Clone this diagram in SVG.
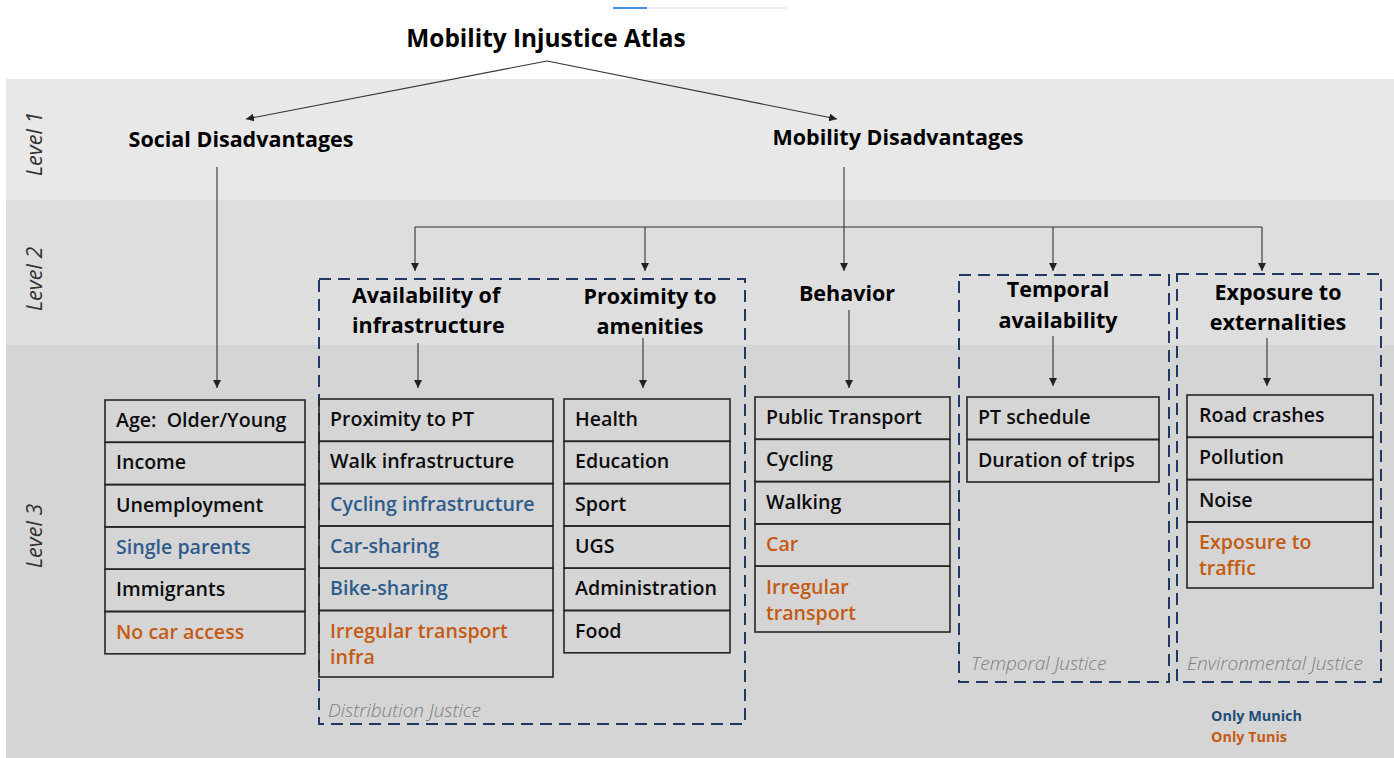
<svg xmlns="http://www.w3.org/2000/svg" width="1394" height="758" viewBox="0 0 1394 758">
  <defs>
    <marker id="arrow" markerUnits="userSpaceOnUse" markerWidth="9" markerHeight="8" refX="8" refY="4" orient="auto">
      <path d="M0,0 L8,4 L0,8 z" fill="#222"/>
    </marker>
    <style>
      .band1 { fill: #e8e8e8; }
      .band2 { fill: #dedede; }
      .band3 { fill: #d5d5d5; }
      .title { font-family: "Open Sans", "Liberation Sans", sans-serif; font-weight: 700; font-size: 24.4px; fill: #000; }
      .head { font-family: "Open Sans", "Liberation Sans", sans-serif; font-weight: 700; font-size: 21.5px; fill: #000; }
      .lvl { font-family: "Open Sans", "DejaVu Sans", sans-serif; font-style: italic; font-size: 21.5px; fill: #333333; }
      .cell rect { fill: none; stroke: #262626; stroke-width: 1.6; }
      .cell text { font-family: "Open Sans", "Liberation Sans", sans-serif; font-weight: 600; font-size: 19.6px; fill: #0d0d0d; }
      .cell text.mu { fill: #2e5c8c; }
      .cell text.tu { fill: #c55a11; }
      .zone { fill: none; stroke: #1f3864; stroke-width: 2; stroke-dasharray: 12 7; }
      .zlabel { font-family: "Open Sans", "Liberation Sans", sans-serif; font-style: italic; font-weight: 300; font-size: 19px; fill: #808080; }
      .conn line { fill: none; stroke: #333; stroke-width: 1.1; }
      .legend { font-family: "Open Sans", "Liberation Sans", sans-serif; font-weight: 700; font-size: 14.4px; }
    </style>
  </defs>

  <!-- page background and level bands -->
  <rect x="0" y="0" width="1394" height="758" fill="#ffffff"/>
  <rect class="band1" x="6" y="79" width="1388" height="121"/>
  <rect class="band2" x="6" y="200" width="1388" height="145"/>
  <rect class="band3" x="6" y="345" width="1388" height="413"/>

  <!-- small header rule -->
  <line x1="613" y1="8" x2="787" y2="8" stroke="#e6e6e6" stroke-width="1.5"/>
  <line x1="613" y1="8" x2="647" y2="8" stroke="#3b8fe0" stroke-width="2"/>

  <!-- level labels -->
  <text class="lvl" transform="translate(42,144) rotate(-90)" text-anchor="middle">Level 1</text>
  <text class="lvl" transform="translate(42,279) rotate(-90)" text-anchor="middle">Level 2</text>
  <text class="lvl" transform="translate(42,536) rotate(-90)" text-anchor="middle">Level 3</text>

  <!-- justice zones -->
  <g id="zone-distribution">
    <rect class="zone" x="319" y="279" width="426" height="445"/>
    <text class="zlabel" x="328" y="717">Distribution Justice</text>
  </g>
  <g id="zone-temporal">
    <rect class="zone" x="959" y="275" width="210" height="407"/>
    <text class="zlabel" x="971" y="670">Temporal Justice</text>
  </g>
  <g id="zone-environmental">
    <rect class="zone" x="1177" y="274" width="204" height="408"/>
    <text class="zlabel" x="1187" y="670">Environmental Justice</text>
  </g>

  <!-- connectors -->
  <g id="connectors" class="conn">
    <line x1="547" y1="61" x2="246" y2="119" marker-end="url(#arrow)"/>
    <line x1="547" y1="61" x2="837" y2="119" marker-end="url(#arrow)"/>
    <line x1="217" y1="167" x2="217" y2="388" marker-end="url(#arrow)"/>
    <line x1="844" y1="167" x2="844" y2="271" marker-end="url(#arrow)"/>
    <line x1="415" y1="227" x2="1262" y2="227"/>
    <line x1="415" y1="227" x2="415" y2="271" marker-end="url(#arrow)"/>
    <line x1="645" y1="227" x2="645" y2="271" marker-end="url(#arrow)"/>
    <line x1="1053" y1="227" x2="1053" y2="271" marker-end="url(#arrow)"/>
    <line x1="1262" y1="227" x2="1262" y2="271" marker-end="url(#arrow)"/>
    <line x1="418" y1="343" x2="418" y2="388" marker-end="url(#arrow)"/>
    <line x1="643" y1="338" x2="643" y2="388" marker-end="url(#arrow)"/>
    <line x1="849" y1="310" x2="849" y2="388" marker-end="url(#arrow)"/>
    <line x1="1053" y1="336" x2="1053" y2="386" marker-end="url(#arrow)"/>
    <line x1="1267" y1="338" x2="1267" y2="386" marker-end="url(#arrow)"/>
  </g>

  <!-- title -->
  <g id="node-atlas">
    <text class="title" x="546" y="47" text-anchor="middle">Mobility Injustice Atlas</text>
  </g>

  <!-- level 1 -->
  <g id="node-social">
    <text class="head" x="241" y="147" text-anchor="middle">Social Disadvantages</text>
  </g>
  <g id="node-mobility">
    <text class="head" x="898" y="145" text-anchor="middle">Mobility Disadvantages</text>
  </g>

  <!-- level 2 -->
  <g id="node-availability">
    <text class="head" x="352" y="303">Availability of</text>
    <text class="head" x="352" y="333">infrastructure</text>
  </g>
  <g id="node-proximity">
    <text class="head" x="650" y="304" text-anchor="middle">Proximity to</text>
    <text class="head" x="650" y="334" text-anchor="middle">amenities</text>
  </g>
  <g id="node-behavior">
    <text class="head" x="847" y="301" text-anchor="middle">Behavior</text>
  </g>
  <g id="node-temporal">
    <text class="head" x="1058" y="297" text-anchor="middle">Temporal</text>
    <text class="head" x="1058" y="328" text-anchor="middle">availability</text>
  </g>
  <g id="node-exposure">
    <text class="head" x="1278" y="300" text-anchor="middle">Exposure to</text>
    <text class="head" x="1278" y="330" text-anchor="middle">externalities</text>
  </g>

  <!-- level 3 tables -->
  <g id="table-social" class="cell">
    <rect x="105" y="400" width="200" height="42.3"/>
    <rect x="105" y="442.3" width="200" height="42.3"/>
    <rect x="105" y="484.6" width="200" height="42.3"/>
    <rect x="105" y="526.9" width="200" height="42.3"/>
    <rect x="105" y="569.2" width="200" height="42.3"/>
    <rect x="105" y="611.5" width="200" height="42.3"/>
    <text x="116" y="427" xml:space="preserve">Age:  Older/Young</text>
    <text x="116" y="469">Income</text>
    <text x="116" y="511.5">Unemployment</text>
    <text class="mu" x="116" y="554">Single parents</text>
    <text x="116" y="596">Immigrants</text>
    <text class="tu" x="116" y="638.5">No car access</text>
  </g>

  <g id="table-availability" class="cell">
    <rect x="319" y="399" width="234" height="42.3"/>
    <rect x="319" y="441.3" width="234" height="42.3"/>
    <rect x="319" y="483.6" width="234" height="42.3"/>
    <rect x="319" y="525.9" width="234" height="42.3"/>
    <rect x="319" y="568.2" width="234" height="42.3"/>
    <rect x="319" y="610.5" width="234" height="66.5"/>
    <text x="330" y="426">Proximity to PT</text>
    <text x="330" y="468">Walk infrastructure</text>
    <text class="mu" x="330" y="510.5">Cycling infrastructure</text>
    <text class="mu" x="330" y="553">Car-sharing</text>
    <text class="mu" x="330" y="595">Bike-sharing</text>
    <text class="tu" x="330" y="638">Irregular transport</text>
    <text class="tu" x="330" y="664">infra</text>
  </g>

  <g id="table-amenities" class="cell">
    <rect x="564" y="399" width="166" height="42.3"/>
    <rect x="564" y="441.3" width="166" height="42.3"/>
    <rect x="564" y="483.6" width="166" height="42.3"/>
    <rect x="564" y="525.9" width="166" height="42.3"/>
    <rect x="564" y="568.2" width="166" height="42.3"/>
    <rect x="564" y="610.5" width="166" height="42.3"/>
    <text x="575" y="426">Health</text>
    <text x="575" y="468">Education</text>
    <text x="575" y="510.5">Sport</text>
    <text x="575" y="553">UGS</text>
    <text x="575" y="595">Administration</text>
    <text x="575" y="637.5">Food</text>
  </g>

  <g id="table-behavior" class="cell">
    <rect x="755" y="397" width="195" height="42.3"/>
    <rect x="755" y="439.3" width="195" height="42.3"/>
    <rect x="755" y="481.6" width="195" height="42.3"/>
    <rect x="755" y="523.9" width="195" height="42.3"/>
    <rect x="755" y="566.2" width="195" height="65.8"/>
    <text x="766" y="424">Public Transport</text>
    <text x="766" y="466">Cycling</text>
    <text x="766" y="508.5">Walking</text>
    <text class="tu" x="766" y="551">Car</text>
    <text class="tu" x="766" y="593.5">Irregular</text>
    <text class="tu" x="766" y="620">transport</text>
  </g>

  <g id="table-temporal" class="cell">
    <rect x="967" y="397" width="192" height="42.5"/>
    <rect x="967" y="439.5" width="192" height="42.5"/>
    <text x="978" y="424">PT schedule</text>
    <text x="978" y="466.5">Duration of trips</text>
  </g>

  <g id="table-exposure" class="cell">
    <rect x="1187" y="395" width="186" height="42.3"/>
    <rect x="1187" y="437.3" width="186" height="42.3"/>
    <rect x="1187" y="479.6" width="186" height="42.3"/>
    <rect x="1187" y="521.9" width="186" height="66.1"/>
    <text x="1199" y="421.5">Road crashes</text>
    <text x="1199" y="464">Pollution</text>
    <text x="1199" y="506.5">Noise</text>
    <text class="tu" x="1199" y="548.5">Exposure to</text>
    <text class="tu" x="1199" y="575">traffic</text>
  </g>

  <!-- legend -->
  <g id="legend">
    <text class="legend" x="1211" y="721" fill="#1f4e79">Only Munich</text>
    <text class="legend" x="1211" y="742" fill="#c55a11">Only Tunis</text>
  </g>
</svg>
